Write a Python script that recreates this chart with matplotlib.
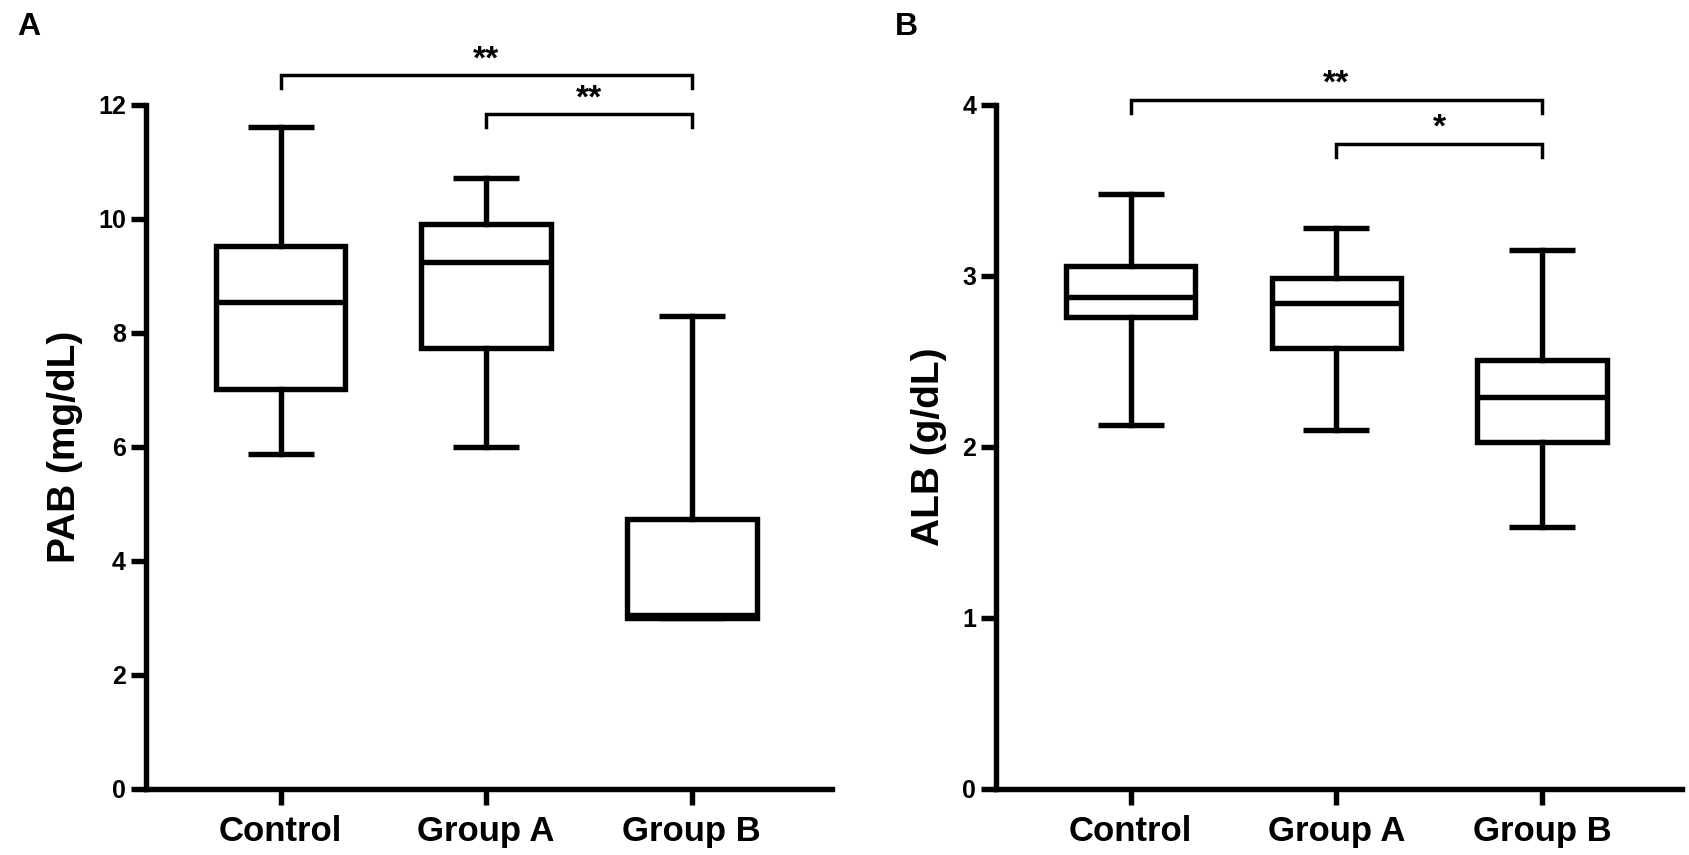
import matplotlib
matplotlib.use("Agg")
import matplotlib.pyplot as plt

plt.rcParams['font.family'] = ['Liberation Sans', 'DejaVu Sans']
plt.rcParams['font.weight'] = 'bold'

groups = ["Control", "Group A", "Group B"]

# Panel A: PAB (mg/dL) box stats
pab_whislo = [5.88, 6.00, 3.00]
pab_q1 = [7.02, 7.73, 3.00]
pab_med = [8.54, 9.24, 3.05]
pab_q3 = [9.52, 9.92, 4.74]
pab_whishi = [11.62, 10.72, 8.30]

# Panel B: ALB (g/dL) box stats
alb_whislo = [2.13, 2.10, 1.53]
alb_q1 = [2.76, 2.58, 2.03]
alb_med = [2.88, 2.84, 2.29]
alb_q3 = [3.06, 2.99, 2.51]
alb_whishi = [3.48, 3.28, 3.15]

# significance brackets: (start group, end group, label)
pab_sig = [(0, 2, "**"), (1, 2, "**")]
pab_sig_y = [12.52, 11.84]
alb_sig = [(0, 2, "**"), (1, 2, "*")]
alb_sig_y = [4.03, 3.772]

LW = 3.9


def make_stats(lo, q1, med, q3, hi):
    return [dict(whislo=a, q1=b, med=c, q3=d, whishi=e, fliers=[], label=g)
            for a, b, c, d, e, g in zip(lo, q1, med, q3, hi, groups)]


def draw(ax, stats, ymax, yticks, ylabel, sig, sig_y, drop):
    ax.bxp(stats, positions=range(len(stats)), widths=0.63, capwidths=0.32,
           showfliers=False, patch_artist=True,
           boxprops=dict(facecolor='white', edgecolor='black', linewidth=LW),
           medianprops=dict(color='black', linewidth=LW, solid_capstyle='butt'),
           whiskerprops=dict(color='black', linewidth=LW),
           capprops=dict(color='black', linewidth=LW, solid_capstyle='butt'))
    ax.set_xlim(-0.655, 2.68)
    ax.set_ylim(0, ymax)
    ax.set_yticks(yticks)
    ax.set_yticklabels([str(t) for t in yticks])
    ax.set_xticks(range(len(groups)))
    ax.set_xticklabels(groups, fontsize=25, fontweight='bold')
    for s in ['top', 'right']:
        ax.spines[s].set_visible(False)
    for s in ['left', 'bottom']:
        ax.spines[s].set_linewidth(LW)
        ax.spines[s].set_capstyle('projecting')
    ax.tick_params(axis='y', length=10.8, width=LW, labelsize=18, pad=3.6)
    ax.tick_params(axis='x', length=11.5, width=LW, pad=7)
    for t in ax.get_yticklabels():
        t.set_fontweight('bold')
    ax.set_ylabel(ylabel, fontsize=28, fontweight='bold', labelpad=11)
    for (a, b, lab), y in zip(sig, sig_y):
        ax.plot([a, a, b, b], [y - drop, y, y, y - drop], color='black',
                linewidth=2.5, clip_on=False, solid_joinstyle='miter')
        ax.text((a + b) / 2, y, lab, ha='center', va='bottom', fontsize=24,
                fontweight='bold', clip_on=False)


fig = plt.figure(figsize=(16.89, 8.55), dpi=100)
axA = fig.add_axes([0.0864, 0.0772, 0.406, 0.800])
axB = fig.add_axes([0.5897, 0.0772, 0.406, 0.800])

draw(axA, make_stats(pab_whislo, pab_q1, pab_med, pab_q3, pab_whishi),
     12, [0, 2, 4, 6, 8, 10, 12], "PAB (mg/dL)", pab_sig, pab_sig_y, 0.23)
draw(axB, make_stats(alb_whislo, alb_q1, alb_med, alb_q3, alb_whishi),
     4, [0, 1, 2, 3, 4], "ALB (g/dL)", alb_sig, alb_sig_y, 0.076)

fig.text(17 / 1689, 1 - 12 / 855, "A", fontsize=23, fontweight='bold', va='top', ha='left')
fig.text(895 / 1689, 1 - 12 / 855, "B", fontsize=23, fontweight='bold', va='top', ha='left')

fig.savefig("out.png", dpi=100, facecolor='white')
